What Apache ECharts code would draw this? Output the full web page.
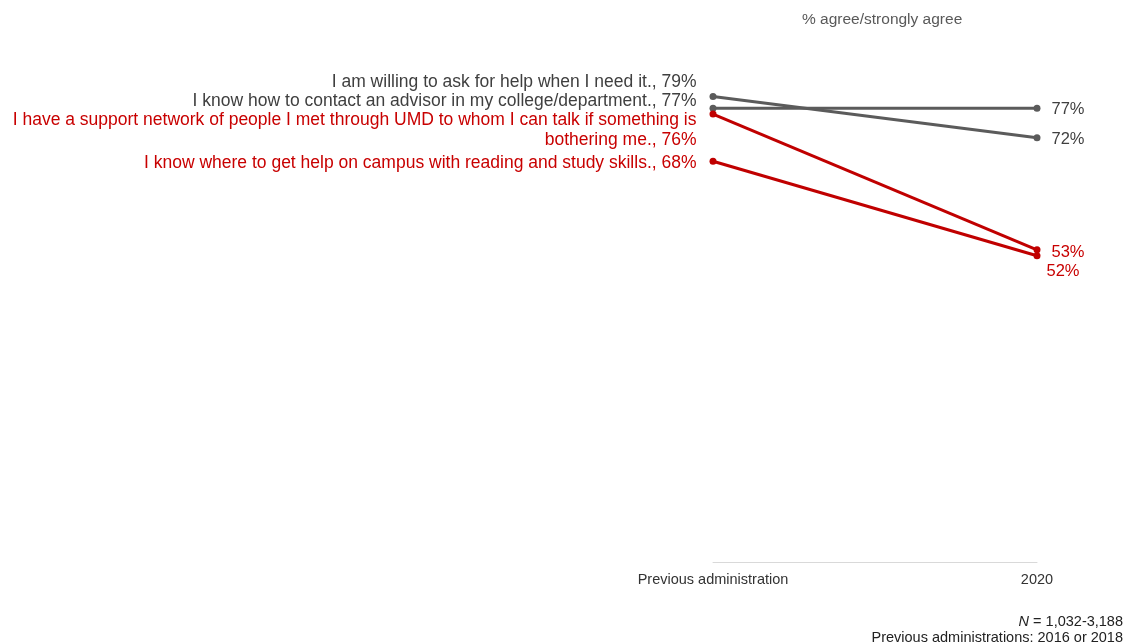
<!DOCTYPE html>
<html>
<head>
<meta charset="utf-8">
<script src="https://cdn.jsdelivr.net/npm/echarts@6/dist/echarts.min.js"></script>
<style>
  html, body { margin: 0; padding: 0; background: #ffffff; }
  #chart { width: 1126px; height: 644px; }
</style>
</head>
<body>
<div id="chart"></div>
<script>
// Survey periods shown on the x axis
const periods = ['Previous administration', '2020'];

// Statements (multi-line where the label wraps)
const statements = [
  'I am willing to ask for help when I need it.',
  'I know how to contact an advisor in my college/department.',
  'I have a support network of people I met through UMD to whom I can talk if something is\nbothering me.',
  'I know where to get help on campus with reading and study skills.'
];

// % agree/strongly agree per statement: [previous, 2020]
const willingHelp = [79, 72];
const contactAdvisor = [77, 77];
const supportNetwork = [76, 53];
const studySkills = [68, 52];
const seriesValues = [willingHelp, contactAdvisor, supportNetwork, studySkills];

// Line colour group per statement
const groups = ['grey', 'grey', 'red', 'red'];

// Styling and label nudges (kept apart from the data)
const palette = {
  grey: { line: '#5b5b5b', text: '#3f3f3f' },
  red:  { line: '#c00000', text: '#c80000' }
};
const leftNudge = [[0, -14.5], [0, -7], [0, 16.5], [0, 1.5]];
const rightNudge = [[0, 2], [0, 1.5], [0, 2.5], [-5, 16]];

const font = 'Arial, "Liberation Sans", sans-serif';

const series = seriesValues.map((vals, i) => {
  const col = palette[groups[i]];
  return {
    type: 'line',
    name: statements[i],
    symbol: 'circle',
    symbolSize: 7,
    z: groups[i] === 'red' ? 3 : 2,
    lineStyle: { width: 3, color: col.line },
    itemStyle: { color: col.line },
    emphasis: { disabled: true },
    data: vals.map((v, j) => ({
      value: v,
      label: {
        show: true,
        position: j === 0 ? 'left' : 'right',
        distance: j === 0 ? 13 : 11,
        offset: j === 0 ? leftNudge[i] : rightNudge[i],
        align: j === 0 ? 'right' : 'left',
        fontFamily: font,
        fontSize: j === 0 ? 17.5 : 16.5,
        lineHeight: 20,
        color: col.text,
        formatter: j === 0 ? statements[i] + ', ' + v + '%' : v + '%'
      }
    }))
  };
});

const chart = echarts.init(document.getElementById('chart'), null, { renderer: 'canvas' });
chart.setOption({
  animation: false,
  backgroundColor: '#ffffff',
  grid: { left: 713, right: 89, top: 2, bottom: 81.5, containLabel: false },
  xAxis: {
    type: 'category',
    data: periods,
    boundaryGap: false,
    axisLine: { show: true, lineStyle: { color: '#d9d9d9', width: 1 } },
    axisTick: { show: false },
    axisLabel: { color: '#333333', fontFamily: font, fontSize: 14.5, margin: 10 },
    splitLine: { show: false }
  },
  yAxis: {
    type: 'value',
    min: 0,
    max: 95,
    interval: 5,
    show: false
  },
  graphic: [
    {
      type: 'text',
      left: 802, top: 12,
      style: { text: '% agree/strongly agree', fill: '#595959', font: '15.5px ' + font }
    },
    {
      type: 'text',
      right: 3, top: 614,
      style: {
        text: '{i|N} = 1,032-3,188',
        align: 'right',
        fill: '#222222',
        font: '14.5px ' + font,
        rich: { i: { fontStyle: 'italic', fontSize: 14.5, fontFamily: font, fill: '#222222' } }
      }
    },
    {
      type: 'text',
      right: 3, top: 630,
      style: { text: 'Previous administrations: 2016 or 2018', fill: '#222222', font: '14.5px ' + font }
    }
  ],
  series: series
});
</script>
</body>
</html>
